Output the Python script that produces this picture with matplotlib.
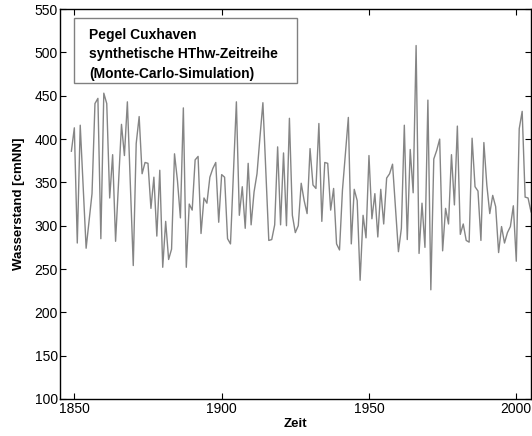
import numpy as np
import matplotlib
matplotlib.use('Agg')
import matplotlib.pyplot as plt
from matplotlib.patches import Rectangle

plt.rcParams['font.family'] = ['Liberation Sans', 'DejaVu Sans']

# synthetische HThw-Zeitreihe Pegel Cuxhaven, Jahreswerte 1849-2005
jahre = np.arange(1849, 2006)
wasserstand = [
    386, 413, 280, 416, 345, 274, 305, 337, 441, 447,
    285, 453, 441, 332, 382, 282, 350, 417, 381, 443,
    348, 254, 395, 426, 360, 373, 372, 320, 356, 288,
    364, 252, 305, 261, 273, 383, 352, 309, 436, 252,
    325, 318, 376, 380, 291, 332, 326, 356, 366, 373,
    304, 359, 356, 285, 279, 361, 443, 312, 345, 297,
    372, 301, 339, 360, 402, 442, 363, 283, 284, 301,
    391, 301, 384, 300, 424, 312, 292, 300, 349, 329,
    314, 389, 347, 343, 418, 305, 373, 372, 318, 343,
    279, 272, 341, 383, 425, 279, 342, 329, 237, 312,
    286, 381, 308, 337, 287, 342, 302, 355, 360, 371,
    320, 270, 297, 416, 284, 388, 338, 508, 268, 326,
    275, 445, 226, 377, 387, 400, 271, 320, 302, 382,
    324, 415, 290, 302, 283, 281, 401, 345, 340, 283,
    396, 347, 314, 335, 322, 269, 299, 280, 292, 299,
    323, 259, 412, 432, 333, 332, 316,
]
x_ticks = [1850, 1900, 1950, 2000]
y_ticks = [100, 150, 200, 250, 300, 350, 400, 450, 500, 550]

fig = plt.figure(figsize=(5.32, 4.36), dpi=100)
ax = fig.add_axes([0.1137, 0.085, 0.885, 0.894])

ax.plot(jahre, wasserstand, c='#858585', lw=1.0)

ax.set_xlim(1845.3, 2005.1)
ax.set_ylim(100, 550)
ax.set_xticks(x_ticks)
ax.set_yticks(y_ticks)
ax.tick_params(direction='in', top=True, right=True, length=4, width=0.8,
               labelsize=10, pad=2)
for s in ax.spines.values():
    s.set_linewidth(1.0)

ax.set_xlabel('Zeit', fontsize=9.5, fontweight='bold', labelpad=2)
ax.set_ylabel('Wasserstand [cmNN]', fontsize=9.5, fontweight='bold', labelpad=7)

# Textkasten oben links
ax.add_patch(Rectangle((0.0287, 0.810), 0.474, 0.167, transform=ax.transAxes,
                       fc='white', ec='#808080', lw=1.0, zorder=3))
ax.text(0.061, 0.952,
        'Pegel Cuxhaven\nsynthetische HThw-Zeitreihe\n(Monte-Carlo-Simulation)',
        transform=ax.transAxes, ha='left', va='top', fontsize=10,
        fontweight='bold', linespacing=1.5, zorder=4)

plt.savefig('out.png', dpi=100)
